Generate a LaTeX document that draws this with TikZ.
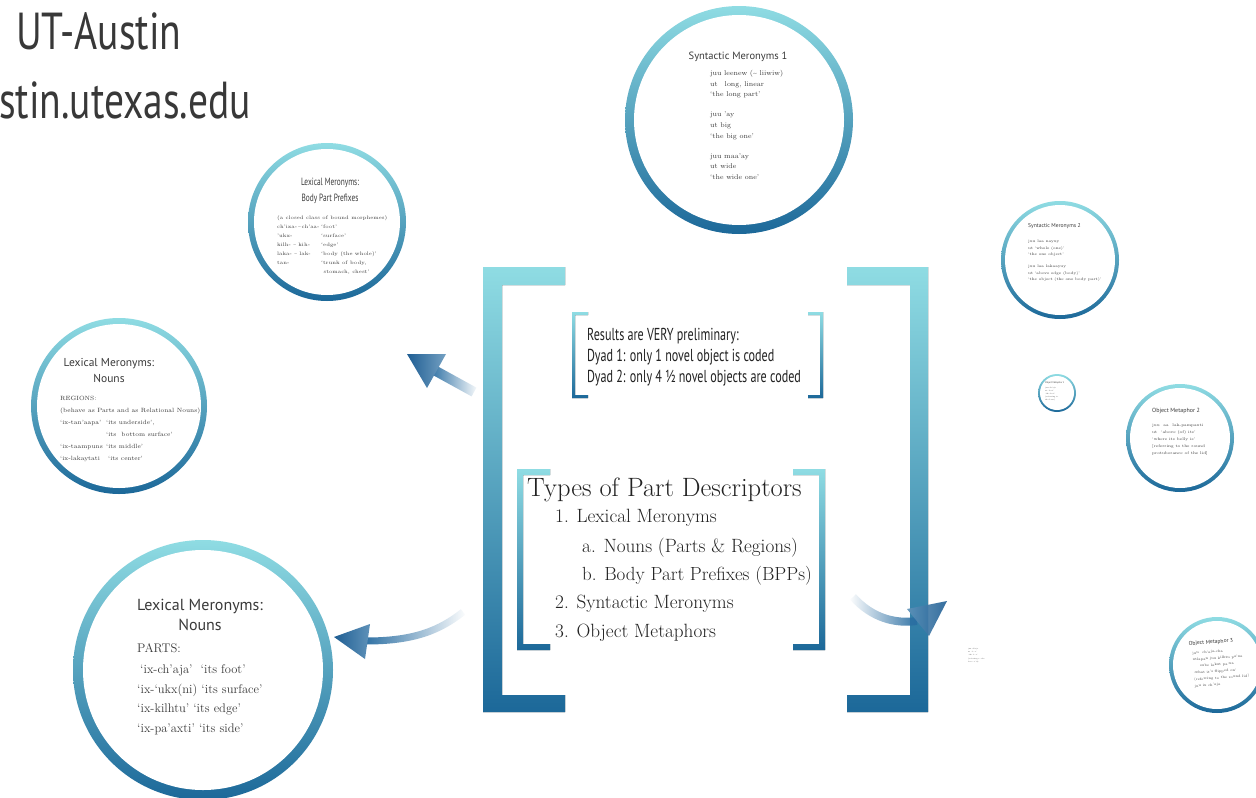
\documentclass[tikz,border=0pt]{standalone}
\usepackage{fontspec}
\newfontfamily\cond[FakeStretch=0.7]{PT Sans}
\newfontfamily\condt[FakeStretch=0.76]{PT Sans}
\newfontfamily\ptsans{PT Sans}
\usetikzlibrary{fadings}
\definecolor{ctop}{HTML}{8FDCE3}
\definecolor{cbot}{HTML}{1C6899}
\definecolor{arr}{HTML}{2A6EA2}
\definecolor{arrd}{HTML}{1F5E93}
\definecolor{txt}{HTML}{3A3A3A}
\definecolor{txtd}{HTML}{222222}
\tikzfading[name=fadeR, left color=transparent!0, right color=transparent!100]
\tikzfading[name=fadeL, left color=transparent!100, right color=transparent!0]
\begin{document}
\begin{tikzpicture}[x=1pt,y=-1pt,
  ring/.style={circle, inner sep=0pt, draw=none, top color=ctop, bottom color=cbot},
  hole/.style={circle, inner sep=0pt, draw=none, fill=white},
  ctitle/.style={inner sep=0pt, text=txt},
  cbody/.style={inner sep=0pt, text=txt, align=left, anchor=north west},
  bracket/.style={top color=ctop, bottom color=cbot, draw=none},
  bigtext/.style={inner sep=0pt, anchor=west, text=txtd}]
\useasboundingbox (0,0) rectangle (1256,798);
\fill[white] (0,0) rectangle (1256,798);

% ---------- title ----------
\node[anchor=base west, inner sep=0pt, text=txtd!90!white, font=\condt\fontsize{52}{52}\selectfont] (t1) at (16,49) {UT-Austin};
\node[anchor=base west, inner sep=0pt, text=txtd!90!white, font=\condt\fontsize{52}{52}\selectfont] (t2) at (-1,118) {stin.utexas.edu};

% ---------- Syntactic Meronyms 1 ----------
\node[ring, minimum size=228] (sm1) at (739,120) {};
\node[hole, minimum size=210] (sm1h) at (sm1) {};
\node[ctitle, font=\ptsans\fontsize{10.5}{12}\selectfont] (sm1t) at (738,57) {Syntactic Meronyms 1};
\node[cbody, font=\fontsize{7}{10.7}\selectfont] (sm1b) at (710,70) {juu leenew (\textasciitilde\ liiwiw)\\ ut\quad long, linear\\ `the long part'\\[9.3pt] juu 'ay\\ ut big\\ `the big one'\\[9.3pt] juu maa'ay\\ ut wide\\ `the wide one'};

% ---------- Body Part Prefixes ----------
\node[ring, minimum size=158] (bpp) at (327,222) {};
\node[hole, minimum size=146] (bpph) at (bpp) {};
\node[ctitle, align=center, font=\cond\fontsize{10.5}{16}\selectfont] (bppt) at (330,191) {Lexical Meronyms:\\Body Part Prefixes};
\node[cbody, font=\fontsize{5}{9}\selectfont] (bppb) at (277,216) {(a closed class of bound morphemes)\\
\makebox[44pt][l]{ch'ixa-\,\textasciitilde\,ch'aa-}`foot'\\
\makebox[44pt][l]{'ukx-}`surface'\\
\makebox[44pt][l]{kilh- \textasciitilde\ kih-}`edge'\\
\makebox[44pt][l]{laka- \textasciitilde\ lak-}`body (the whole)'\\
\makebox[44pt][l]{tan-}`trunk of body,\\
\makebox[44pt][l]{}\ stomach, chest'};

% ---------- Lexical Meronyms: Nouns (regions) ----------
\node[ring, minimum size=176] (reg) at (119,406) {};
\node[hole, minimum size=164] (regh) at (reg) {};
\node[ctitle, align=center, font=\ptsans\fontsize{11.5}{16}\selectfont] (regt) at (109,370) {Lexical Meronyms:\\Nouns};
\node[cbody, font=\fontsize{6.1}{12}\selectfont] (regb) at (60,396) {REGIONS:\\
(behave as Parts and as Relational Nouns)\\
\makebox[46pt][l]{`ix-tan'aapa'}`its underside',\\
\makebox[46pt][l]{}`its\ \ bottom surface'\\
\makebox[46pt][l]{`ix-taampuns}`its middle'\\
\makebox[48pt][l]{`ix-lakaytati}`its center'};

% ---------- Lexical Meronyms: Nouns (parts) ----------
\node[ring, minimum size=260] (parts) at (203,670) {};
\node[hole, minimum size=240] (partsh) at (parts) {};
\node[ctitle, align=center, font=\ptsans\fontsize{16}{20.5}\selectfont] (partst) at (200,615) {Lexical Meronyms:\\Nouns};
\node[cbody, font=\fontsize{12.5}{19.5}\selectfont] (partsb) at (137,643) {PARTS:\\[2pt]
\hspace{3pt}`ix-ch'aja'\ \ `its foot'\\
`ix-`ukx(ni) `its surface'\\
`ix-kilhtu' `its edge'\\
`ix-pa'axti' `its side'};

% ---------- Syntactic Meronyms 2 ----------
\node[ring, minimum size=118] (sm2) at (1060,260) {};
\node[hole, minimum size=110] (sm2h) at (sm2) {};
\node[ctitle, anchor=west, font=\ptsans\fontsize{5.6}{6}\selectfont] (sm2t) at (1028,226) {Syntactic Meronyms 2};
\node[cbody, font=\fontsize{3.8}{6.5}\selectfont] (sm2b) at (1028,240) {juu laa nayuy\\ ut `whole (one)'\\ `the one object'\\[5.5pt] juu laa lakaayuy\\ ut `above edge (body)'\\ `the object (the one body part)'};

% ---------- small circle ----------
\node[ring, minimum size=38] (om1) at (1057,393) {};
\node[hole, minimum size=34] (om1h) at (om1) {};
\node[ctitle, anchor=west, font=\ptsans\fontsize{2.4}{3}\selectfont] (om1t) at (1045,383) {Object Metaphor 1};
\node[cbody, font=\fontsize{1.8}{3}\selectfont] (om1b) at (1045,387) {juu ch'aja\\ ut `foot'\\ `the foot'\\ (referring to\\ the base)};

% ---------- Object Metaphor 2 ----------
\node[ring, minimum size=108] (om2) at (1180,438) {};
\node[hole, minimum size=100] (om2h) at (om2) {};
\node[ctitle, anchor=west, font=\ptsans\fontsize{6}{7}\selectfont] (om2t) at (1152,411) {Object Metaphor 2};
\node[cbody, font=\fontsize{3.9}{6.8}\selectfont] (om2b) at (1152,424) {juu\ \ aa\ \ lak-pampaxti\\ ut\ \ `above (of) its'\\ `where its belly is'\\ {[}referring to the round\\ protuberance of the lid{]}};

% ---------- Object Metaphor 3 ----------
\node[ring, minimum size=96] (om3) at (1217,665) {};
\node[hole, minimum size=88] (om3h) at (om3) {};
\begin{scope}[rotate around={4:(1217,665)}]
\node[ctitle, anchor=west, font=\ptsans\fontsize{5.6}{6}\selectfont, rotate=4] (om3t) at (1190,642) {Object Metaphor 3};
\node[cbody, font=\fontsize{3.4}{6.6}\selectfont, rotate=4] (om3b) at (1193,650) {juu\quad ch'aja-cha\\ xtlapan juu kilhtu pa'xa\\ \qquad sube lakut pa'xa\\ `what it's flipped on'\\ (referring to the round lid)\\ juu ix ch'aja};
\end{scope}

% ---------- tiny text ----------
\node[cbody, font=\fontsize{1.7}{3.3}\selectfont] (tiny) at (968,648) {juu ch'aja\\ ut `foot'\\ `the foot'\\ (referring to the\\ base of it)};

% ---------- big brackets ----------
\fill[bracket] (483,267) -- (565,267) -- (565,285) -- (502,285) -- (502,695) -- (565,695) -- (565,712) -- (483,712) -- cycle;
\fill[bracket] (928,267) -- (847,267) -- (847,285) -- (910,285) -- (910,695) -- (847,695) -- (847,712) -- (928,712) -- cycle;

% ---------- results bracket ----------
\fill[bracket] (572,312) -- (588,312) -- (588,315) -- (575,315) -- (575,395) -- (588,395) -- (588,398) -- (572,398) -- cycle;
\fill[bracket] (823,312) -- (808,312) -- (808,315) -- (820,315) -- (820,395) -- (808,395) -- (808,398) -- (823,398) -- cycle;
\node[bigtext, align=left, font=\cond\fontsize{17.3}{21}\selectfont] (res) at (587,357) {Results are VERY preliminary:\\Dyad 1: only 1 novel object is coded\\Dyad 2: only 4 ½ novel objects are coded};

% ---------- types bracket ----------
\fill[bracket] (517,469) -- (550,469) -- (550,475) -- (523,475) -- (523,644) -- (550,644) -- (550,650) -- (517,650) -- cycle;
\fill[bracket] (825,469) -- (793,469) -- (793,475) -- (819,475) -- (819,644) -- (793,644) -- (793,650) -- (825,650) -- cycle;
\node[bigtext, font=\fontsize{26.5}{28}\selectfont] (types) at (527,490) {Types of Part Descriptors};
\node[bigtext, font=\fontsize{19.2}{22}\selectfont] (ty1) at (555,518) {1. Lexical Meronyms};
\node[bigtext, font=\fontsize{19.2}{22}\selectfont] (ty1a) at (582,548) {a. Nouns (Parts \& Regions)};
\node[bigtext, font=\fontsize{19}{22}\selectfont] (ty1b) at (582,576) {b. Body Part Prefixes (BPPs)};
\node[bigtext, font=\fontsize{19.2}{22}\selectfont] (ty2) at (555,604) {2. Syntactic Meronyms};
\node[bigtext, font=\fontsize{19.2}{22}\selectfont] (ty3) at (555,633) {3. Object Metaphors};

% ---------- arrows ----------
\coordinate (aAtail) at (474,392);
\coordinate (aAbase) at (434,370);
\draw[arr, line width=10pt, path fading=fadeR] (aAbase) -- (aAtail);
\shade[left color=arrd, right color=arr!65!white] (407,354) -- (446,354) -- (427,388) -- cycle;

\coordinate (aBtail) at (463,612);
\coordinate (aBbase) at (366,641);
\draw[arr, line width=7pt, path fading=fadeR] (aBbase) .. controls (415,641) and (440,630) .. (aBtail);
\shade[left color=arrd, right color=arr!75!white] (334,637) -- (370,624) -- (365,659) -- cycle;

\coordinate (aCtail) at (853,597);
\coordinate (aCbase) at (917,621);
\draw[arr, line width=8pt, path fading=fadeL] (aCtail) .. controls (872,618) and (895,624) .. (aCbase);
\shade[left color=arr!75!white, right color=arrd, opacity=0.9] (947,601) -- (907,609) -- (929,636) -- cycle;
\end{tikzpicture}
\end{document}
